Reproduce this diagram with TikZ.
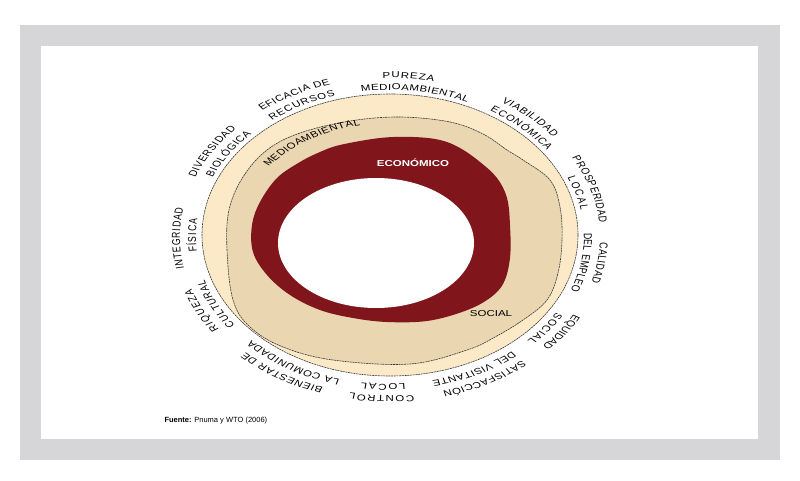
\documentclass[tikz,border=0pt]{standalone}
\usepackage{fontspec}
\setmainfont{Liberation Sans}
\usepackage{tikz}
\usetikzlibrary{decorations.text}
\usepackage{xcolor}
\definecolor{framegray}{HTML}{D6D6D8}
\definecolor{cream}{HTML}{FBE9C8}
\definecolor{bandtan}{HTML}{EBD6B2}
\definecolor{econred}{HTML}{80161B}
\definecolor{edge}{HTML}{3A3A3A}
\tikzset{
  rim/.style={draw=edge, line width=0.6pt, dash pattern=on 2pt off 0.7pt},
  curved/.style={decorate, decoration={text along path, text align={fit to path},
    text={|\fontsize{11.5}{13}\selectfont|#1}}}
}

\begin{document}
\begin{tikzpicture}[x=1pt, y=1pt]
  \useasboundingbox (0,0) rectangle (800,480);
  % frame
  \fill[framegray] (20,20) rectangle (780,455);
  \fill[white] (41,41) rectangle (758,434);
  % rings
  \filldraw[fill=cream, rim] (390,245) ellipse [x radius=188, y radius=141];
  \filldraw[fill=bandtan, rim] plot[smooth cycle, tension=0.6] coordinates {
    (400,363) (450,358) (483,346) (507,330) (523,320) (550,300) (560,273)
    (562,240) (558,207) (547,180) (523,160) (495,143) (467,130) (410,116)
    (333,120) (283,133) (250,153) (233,180) (227,230) (229,270) (243,303)
    (267,330) (300,347) (350,359)};
  \fill[econred] plot[smooth cycle, tension=0.6] coordinates {
    (340,335) (380,342) (413,343) (440,340) (460,332) (480,318) (497,302)
    (507,282) (510,255) (510,222) (503,196) (487,180) (462,168) (427,159)
    (387,158) (353,162) (320,170) (290,185) (267,205) (253,228) (252,255)
    (260,278) (277,302) (300,318) (320,328)};
  \fill[white] (376,237) ellipse [x radius=98, y radius=65];
  \node[anchor=west, font=\fontsize{7.5}{9}\selectfont] (fuente) at (161,59) {\textbf{Fuente:} Pnuma y WTO (2006)};
  % texts, set round and then squeezed
  \begin{scope}[transform canvas={yscale=0.75}]
    \node[white, font=\bfseries\fontsize{11.5}{13}\selectfont] (economico) at (413,422.7) {ECONÓMICO};
    \node[font=\fontsize{11.5}{13}\selectfont] (social) at (491,221.3) {SOCIAL};
    \begin{scope}[shift={(390,324)}]
      \path[curved=MEDIOAMBIENTAL] (142:154 and 152) arc[start angle=142, end angle=101, x radius=154, y radius=152];
      \path[curved=EFICACIA DE] (127.5:210 and 212) arc[start angle=127.5, end angle=106.5, x radius=210, y radius=212];
      \path[curved=RECURSOS] (127.4:194 and 196) arc[start angle=127.4, end angle=106.3, x radius=194, y radius=196];
      \path[curved=PUREZA] (92:210 and 212) arc[start angle=92, end angle=78, x radius=210, y radius=212];
      \path[curved=MEDIOAMBIENTAL] (98.5:194 and 196) arc[start angle=98.5, end angle=66.5, x radius=194, y radius=196];
      \path[curved=VIABILIDAD] (58:210 and 212) arc[start angle=58, end angle=39, x radius=210, y radius=212];
      \path[curved=ECONÓMICA] (59:194 and 196) arc[start angle=59, end angle=36, x radius=194, y radius=196];
      \path[curved=PROSPERIDAD] (30:210 and 212) arc[start angle=30, end angle=5, x radius=210, y radius=212];
      \path[curved=LOCAL] (24:194 and 196) arc[start angle=24, end angle=10.5, x radius=194, y radius=196];
      \path[curved=CALIDAD] (-2:210 and 212) arc[start angle=-2, end angle=-16.5, x radius=210, y radius=212];
      \path[curved=DEL EMPLEO] (1.5:194 and 196) arc[start angle=1.5, end angle=-21.5, x radius=194, y radius=196];
      \path[curved=EQUIDAD] (-29:210 and 212) arc[start angle=-29, end angle=-43.5, x radius=210, y radius=212];
      \path[curved=SOCIAL] (-31:194 and 196) arc[start angle=-31, end angle=-45, x radius=194, y radius=196];
      \path[curved=SATISFACCIÓN] (-51:210 and 212) arc[start angle=-51, end angle=-75.5, x radius=210, y radius=212];
      \path[curved=DEL VISITANTE] (-51:194 and 196) arc[start angle=-51, end angle=-77.5, x radius=194, y radius=196];
      \path[curved=CONTROL] (-83.5:210 and 212) arc[start angle=-83.5, end angle=-101, x radius=210, y radius=212];
      \path[curved=LOCAL] (-85.5:194 and 196) arc[start angle=-85.5, end angle=-98.5, x radius=194, y radius=196];
      \path[curved=BIENESTAR DE] (-108.5:210 and 212) arc[start angle=-108.5, end angle=-133.5, x radius=210, y radius=212];
      \path[curved=LA COMUNIDADA] (-105:194 and 196) arc[start angle=-105, end angle=-135.5, x radius=194, y radius=196];
      \path[curved=RIQUEZA] (-144.5:210 and 212) arc[start angle=-144.5, end angle=-161, x radius=210, y radius=212];
      \path[curved=CULTURAL] (-143:194 and 196) arc[start angle=-143, end angle=-163, x radius=194, y radius=196];
      \path[curved=INTEGRIDAD] (191.5:210 and 212) arc[start angle=191.5, end angle=169.5, x radius=210, y radius=212];
      \path[curved=FÍSICA] (185.7:194 and 196) arc[start angle=185.7, end angle=173, x radius=194, y radius=196];
      \path[curved=DIVERSIDAD] (158:210 and 212) arc[start angle=158, end angle=137, x radius=210, y radius=212];
      \path[curved=BIOLÓGICA] (156:194 and 196) arc[start angle=156, end angle=135.5, x radius=194, y radius=196];
    \end{scope}
  \end{scope}
\end{tikzpicture}
\end{document}
